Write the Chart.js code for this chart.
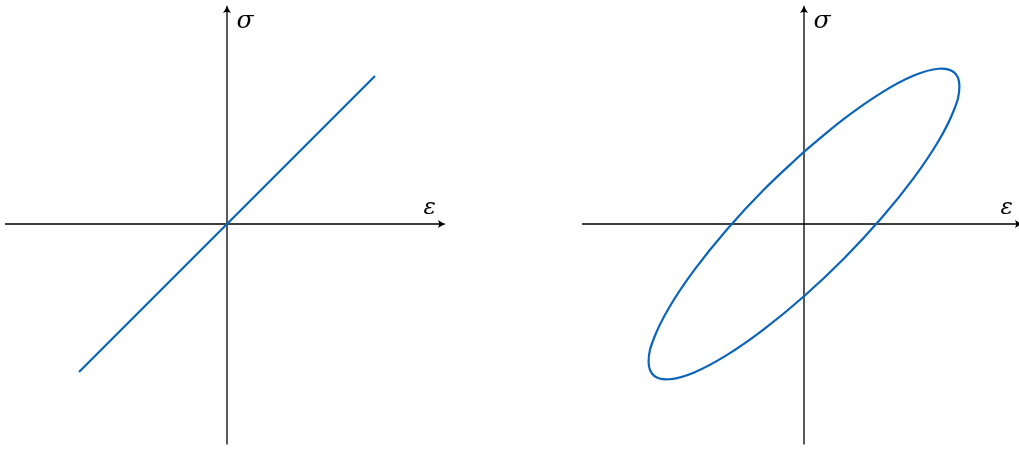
<!DOCTYPE html>
<html>
<head>
<meta charset="utf-8">
<script src="https://cdn.jsdelivr.net/npm/chart.js@4"></script>
<style>
  html, body { margin: 0; padding: 0; background: #fff; }
  body { width: 1019px; height: 450px; position: relative; overflow: hidden; }
  canvas { position: absolute; top: 2px; }
  #elasticChart { left: 5px; }
  #viscousChart { left: 582px; }
</style>
</head>
<body>
<canvas id="elasticChart" width="444" height="444"></canvas>
<canvas id="viscousChart" width="444" height="444"></canvas>
<script>
/************ DATA ************/
const axisNames = ["ε", "σ"];

// purely elastic: stress follows strain
const elasticStrain = [-1, 1];
const elasticStress = [-1, 1];

// viscoelastic hysteresis loop (strain, stress), one full cycle
const loopStrain = [
  0, 0.272, 0.525, 0.742, 0.909, 1.014, 1.05, 1.014, 0.909, 0.742, 0.525, 0.272,
  0, -0.272, -0.525, -0.742, -0.909, -1.014, -1.05, -1.014, -0.909, -0.742, -0.525, -0.272,
  0,
];
const loopStress = [
  0.488, 0.712, 0.888, 1.003, 1.049, 1.024, 0.93, 0.772, 0.561, 0.312, 0.042, -0.231,
  -0.488, -0.712, -0.888, -1.003, -1.049, -1.024, -0.93, -0.772, -0.561, -0.312, -0.042, 0.231,
  0.488,
];

const LINE_COLOR = "#0a64bc";

function toPoints(xs, ys) {
  return xs.map((x, i) => ({ x: x, y: ys[i] }));
}

/************ AXES PLUGIN ************/
function arrowHead(ctx, x, y, angle) {
  ctx.save();
  ctx.translate(x, y);
  ctx.rotate(angle);
  ctx.beginPath();
  ctx.moveTo(0, 0);
  ctx.quadraticCurveTo(-4, -1, -8, -4);
  ctx.quadraticCurveTo(-6, 0, -8, 4);
  ctx.quadraticCurveTo(-4, 1, 0, 0);
  ctx.closePath();
  ctx.fill();
  ctx.restore();
}

const crossAxes = {
  id: "crossAxes",
  beforeDatasetsDraw(chart) {
    const { ctx, scales } = chart;
    const sx = scales.x, sy = scales.y;
    const x0 = sx.getPixelForValue(0), y0 = sy.getPixelForValue(0);
    const left = sx.getPixelForValue(-1.5), right = sx.getPixelForValue(1.48);
    const top = sy.getPixelForValue(1.48), bottom = sy.getPixelForValue(-1.49);

    ctx.save();
    ctx.strokeStyle = "#000";
    ctx.fillStyle = "#000";
    ctx.lineWidth = 1.3;
    ctx.beginPath();
    ctx.moveTo(left, y0);
    ctx.lineTo(right - 3, y0);
    ctx.moveTo(x0, bottom);
    ctx.lineTo(x0, top + 3);
    ctx.stroke();
    arrowHead(ctx, right, y0, 0);
    arrowHead(ctx, x0, top, -Math.PI / 2);

    ctx.textAlign = "center";
    ctx.textBaseline = "alphabetic";
    ctx.font = "italic 23px 'DejaVu Serif', serif";
    ctx.fillText(axisNames[0], sx.getPixelForValue(1.37), y0 - 10);
    ctx.font = "italic 25px 'DejaVu Serif', serif";
    ctx.fillText(axisNames[1], x0 + 18, sy.getPixelForValue(1.325));
    ctx.restore();
  },
};

/************ CHARTS ************/
function makeChart(id, points) {
  const ctx = document.getElementById(id).getContext("2d");
  return new Chart(ctx, {
    type: "scatter",
    data: {
      datasets: [
        {
          data: points,
          showLine: true,
          borderColor: LINE_COLOR,
          borderWidth: 2.2,
          pointRadius: 0,
          tension: 0.4,
          fill: false,
        },
      ],
    },
    options: {
      responsive: false,
      animation: false,
      layout: { padding: 0 },
      plugins: { legend: { display: false }, tooltip: { enabled: false } },
      scales: {
        x: { type: "linear", min: -1.5, max: 1.5, display: false },
        y: { type: "linear", min: -1.5, max: 1.5, display: false },
      },
    },
    plugins: [crossAxes],
  });
}

const elasticChart = makeChart("elasticChart", toPoints(elasticStrain, elasticStress));
const viscousChart = makeChart("viscousChart", toPoints(loopStrain, loopStress));
</script>
</body>
</html>
